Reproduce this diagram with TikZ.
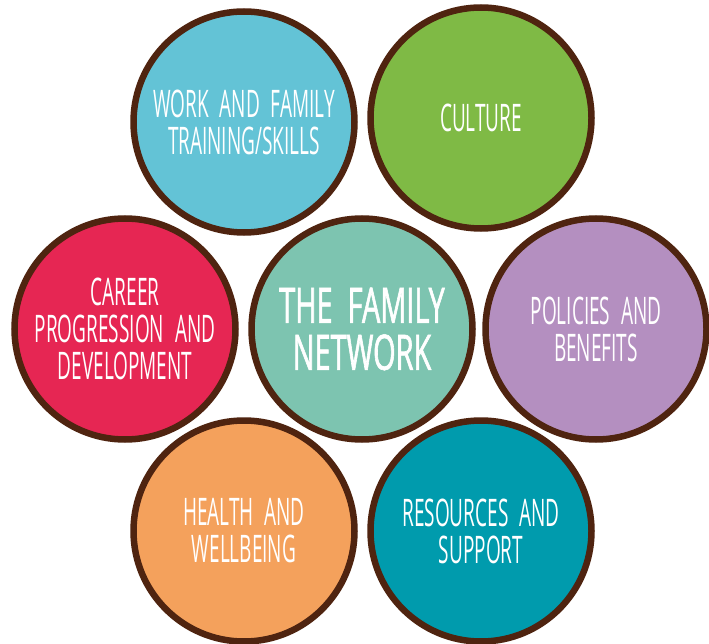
\documentclass[tikz,border=0pt]{standalone}
\usepackage{fontspec}
\setmainfont{Open Sans}
\newfontfamily\handfont{Open Sans}[FakeStretch=0.50,WordSpace=2.2]
\newfontfamily\handbold{Open Sans}[FakeStretch=0.59,FakeBold=1.2,WordSpace=2.0]
\definecolor{rim}{HTML}{4F2410}
\definecolor{skyblue}{HTML}{63C3D6}
\definecolor{leafgreen}{HTML}{7FBA45}
\definecolor{crimson}{HTML}{E62653}
\definecolor{seafoam}{HTML}{7DC4B0}
\definecolor{lilac}{HTML}{B48FC0}
\definecolor{apricot}{HTML}{F4A15C}
\definecolor{deepteal}{HTML}{009BAD}
\tikzset{
  bubble/.style={circle, draw=rim, line width=6.5pt, minimum size=221pt,
    inner sep=0pt, text=white, align=center},
  topic/.style={bubble, font=\handfont\fontsize{38}{37}\selectfont},
  hub/.style={bubble, font=\handbold\fontsize{49}{47}\selectfont}
}
\begin{document}
\begin{tikzpicture}[x=1pt,y=-1pt]
  \useasboundingbox (0,0) rectangle (709,644);
  \node[topic, fill=skyblue]   (work)     at (244,122) {WORK AND FAMILY\\TRAINING/SKILLS};
  \node[topic, fill=leafgreen] (culture)  at (481,118) {CULTURE};
  \node[topic, fill=crimson]   (career)   at (125,329) {CAREER\\PROGRESSION AND\\DEVELOPMENT};
  \node[hub,   fill=seafoam]   (family)   at (362,329) {THE FAMILY\\NETWORK};
  \node[topic, fill=lilac]     (policies) at (596,329) {POLICIES AND\\BENEFITS};
  \node[topic, fill=apricot]   (health)   at (244,531) {HEALTH AND\\WELLBEING};
  \node[topic, fill=deepteal]  (support)  at (481,531) {RESOURCES AND\\SUPPORT};
\end{tikzpicture}
\end{document}
